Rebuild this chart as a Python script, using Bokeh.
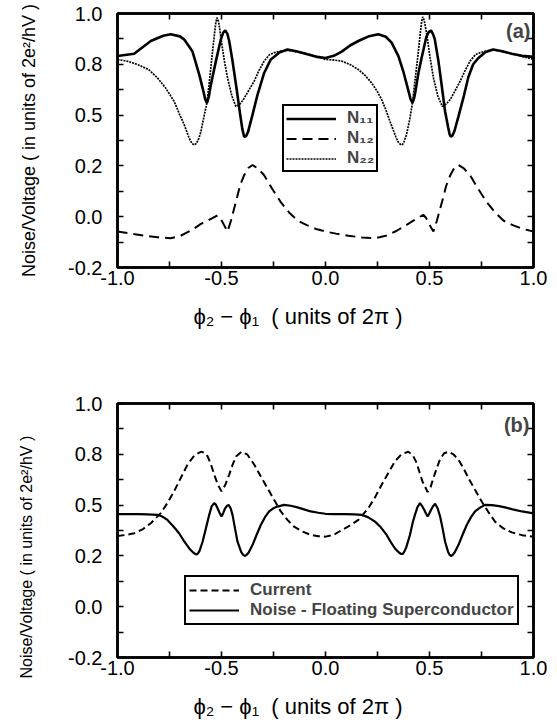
from bokeh.plotting import figure
from bokeh.models import Range1d, FixedTicker, LinearAxis, Legend, LegendItem, Label
from bokeh.layouts import column
from bokeh.embed import file_html
from bokeh.resources import INLINE

# ---------------- axes / ticks ----------------
x_ticks = [-1.0, -0.5, 0.0, 0.5, 1.0]
x_tick_labels = ["-1.0", "-0.5", "0.0", "0.5", "1.0"]
x_minor = [-0.75, -0.25, 0.25, 0.75]
y_ticks = [1.0, 0.76, 0.52, 0.28, 0.04, -0.2]
y_tick_labels = ["1.0", "0.8", "0.5", "0.2", "0.0", "-0.2"]
y_minor = [0.88, 0.64, 0.40, 0.16, -0.08]

NB = "\u00a0"
x_title = "\u03d5\u2082 \u2212 \u03d5\u2081" + NB * 2 + "( units of 2\u03c0 )" + NB * 9
y_title = "Noise/Voltage ( in units of 2e\u00b2/hV )"

# ---------------- panel (a) ----------------
n11_x = [-1.000, -0.920, -0.840, -0.780, -0.744, -0.700, -0.680, -0.640, -0.607, -0.587,
         -0.578, -0.570, -0.561, -0.551, -0.527, -0.503, -0.492, -0.482, -0.472, -0.463,
         -0.447, -0.428, -0.410, -0.400, -0.391, -0.382, -0.372, -0.351, -0.327, -0.295,
         -0.263, -0.223, -0.183, -0.140, -0.087, -0.040,
         0.000, 0.040, 0.078, 0.120, 0.158, 0.210, 0.254, 0.290, 0.318, 0.350, 0.374,
         0.400, 0.409, 0.418, 0.426, 0.432, 0.447, 0.462, 0.485, 0.496, 0.507, 0.516,
         0.525, 0.543, 0.560, 0.575, 0.590, 0.597, 0.603, 0.611, 0.620, 0.639, 0.665,
         0.687, 0.710, 0.735, 0.770, 0.807, 0.850, 0.895, 0.945, 1.000]
n11_y = [0.799, 0.810, 0.870, 0.895, 0.902, 0.892, 0.878, 0.822, 0.711, 0.632,
         0.594, 0.578, 0.607, 0.664, 0.775, 0.878, 0.910, 0.920, 0.905, 0.870,
         0.775, 0.648, 0.521, 0.455, 0.418, 0.420, 0.442, 0.521, 0.616, 0.719,
         0.783, 0.815, 0.830, 0.822, 0.807, 0.795,
         0.790, 0.800, 0.820, 0.850, 0.870, 0.893, 0.902, 0.890, 0.862, 0.800, 0.727,
         0.630, 0.595, 0.578, 0.600, 0.630, 0.720, 0.790, 0.890, 0.912, 0.920, 0.905,
         0.880, 0.775, 0.650, 0.537, 0.460, 0.428, 0.418, 0.425, 0.445, 0.513, 0.610,
         0.700, 0.760, 0.790, 0.818, 0.830, 0.822, 0.810, 0.800, 0.795]

n12_x = [-1.000, -0.936, -0.872, -0.808, -0.744, -0.700, -0.663, -0.630, -0.599, -0.560,
         -0.519, -0.507, -0.495, -0.483, -0.471, -0.455, -0.431, -0.410, -0.391, -0.371,
         -0.351, -0.325, -0.295, -0.255, -0.215, -0.175, -0.135, -0.090, -0.045, 0.000,
         0.050, 0.110, 0.175, 0.238, 0.290, 0.335, 0.375, 0.420, 0.470, 0.483, 0.495,
         0.507, 0.519, 0.535, 0.560, 0.580, 0.600, 0.620, 0.639, 0.665, 0.695, 0.735,
         0.775, 0.815, 0.855, 0.900, 0.950, 1.000]
n12_y = [-0.030, -0.040, -0.049, -0.057, -0.062, -0.052, -0.033, -0.015, 0.006, 0.025,
         0.046, 0.035, 0.014, -0.008, -0.030, 0.020, 0.109, 0.190, 0.236, 0.270,
         0.284, 0.268, 0.236, 0.170, 0.109, 0.060, 0.022, 0.000, -0.018, -0.030,
         -0.040, -0.050, -0.058, -0.062, -0.050, -0.030, -0.008, 0.020, 0.049, 0.035, 0.012,
         -0.010, -0.030, 0.020, 0.109, 0.185, 0.236, 0.272, 0.284, 0.268, 0.236, 0.170,
         0.109, 0.060, 0.022, 0.000, -0.018, -0.030]

n22_x = [-1.000, -0.950, -0.904, -0.850, -0.808, -0.770, -0.728, -0.700, -0.679, -0.655,
         -0.642, -0.631, -0.620, -0.609, -0.599, -0.585, -0.570, -0.556, -0.543, -0.532,
         -0.527, -0.522, -0.517, -0.512, -0.503, -0.487, -0.471, -0.450, -0.431, -0.411,
         -0.391, -0.367, -0.343, -0.320, -0.295, -0.270, -0.247, -0.215, -0.183, -0.135,
         -0.087, -0.040, 0.000,
         0.040, 0.078, 0.120, 0.158, 0.190, 0.222, 0.250, 0.270, 0.290, 0.310, 0.337,
         0.350, 0.363, 0.370, 0.378, 0.390, 0.405, 0.418, 0.431, 0.443, 0.456, 0.462,
         0.467, 0.472, 0.477, 0.487, 0.503, 0.519, 0.540, 0.562, 0.580, 0.599, 0.623,
         0.647, 0.670, 0.695, 0.720, 0.743, 0.770, 0.799, 0.850, 0.895, 0.945, 1.000]
n22_y = [0.783, 0.774, 0.759, 0.735, 0.696, 0.650, 0.585, 0.520, 0.474, 0.410,
         0.386, 0.379, 0.387, 0.410, 0.442, 0.510, 0.577, 0.700, 0.822, 0.920,
         0.958, 0.980, 0.972, 0.950, 0.886, 0.780, 0.696, 0.610, 0.561, 0.572,
         0.600, 0.640, 0.680, 0.730, 0.775, 0.805, 0.815, 0.822, 0.826, 0.818,
         0.810, 0.795, 0.783,
         0.780, 0.775, 0.758, 0.735, 0.708, 0.672, 0.630, 0.593, 0.545, 0.490, 0.420,
         0.392, 0.379, 0.381, 0.395, 0.430, 0.500, 0.577, 0.690, 0.790, 0.910, 0.960,
         0.984, 0.975, 0.955, 0.900, 0.790, 0.696, 0.610, 0.561, 0.572, 0.593, 0.635,
         0.680, 0.728, 0.775, 0.805, 0.815, 0.822, 0.830, 0.820, 0.810, 0.797, 0.783]

# ---------------- panel (b) ----------------
cur_x = [-1.000, -0.960, -0.920, -0.880, -0.840, -0.792, -0.760, -0.728, -0.695, -0.663,
         -0.630, -0.599, -0.583, -0.567, -0.550, -0.535, -0.517, -0.500, -0.482, -0.463,
         -0.447, -0.430, -0.404, -0.375, -0.343, -0.311, -0.279, -0.247, -0.215, -0.183,
         -0.151, -0.111, -0.071, -0.035, 0.000,
         0.040, 0.078, 0.120, 0.158, 0.206, 0.240, 0.270, 0.302, 0.334, 0.365, 0.398,
         0.420, 0.438, 0.452, 0.466, 0.491, 0.505, 0.519, 0.535, 0.550, 0.570, 0.591,
         0.615, 0.639, 0.663, 0.687, 0.719, 0.751, 0.783, 0.815, 0.855, 0.895, 0.945, 1.000]
cur_y = [0.374, 0.379, 0.387, 0.405, 0.434, 0.482, 0.530, 0.585, 0.650, 0.712,
         0.755, 0.772, 0.768, 0.751, 0.710, 0.664, 0.615, 0.585, 0.615, 0.664,
         0.710, 0.750, 0.772, 0.758, 0.712, 0.655, 0.600, 0.545, 0.490, 0.450,
         0.418, 0.395, 0.379, 0.373, 0.371,
         0.380, 0.402, 0.425, 0.450, 0.505, 0.560, 0.616, 0.672, 0.727, 0.760, 0.772,
         0.755, 0.720, 0.675, 0.632, 0.582, 0.605, 0.648, 0.695, 0.735, 0.765, 0.772,
         0.760, 0.735, 0.695, 0.648, 0.592, 0.537, 0.487, 0.442, 0.410, 0.391, 0.378, 0.371]

noise_x = [-1.000, -0.950, -0.904, -0.856, -0.808, -0.785, -0.760, -0.732, -0.704, -0.680,
           -0.655, -0.635, -0.627, -0.619, -0.612, -0.605, -0.591, -0.575, -0.559, -0.547,
           -0.535, -0.527, -0.519, -0.510, -0.500, -0.492, -0.484, -0.475, -0.466, -0.456,
           -0.447, -0.435, -0.423, -0.405, -0.396, -0.388, -0.380, -0.370, -0.351, -0.331,
           -0.311, -0.291, -0.271, -0.251, -0.231, -0.199, -0.167, -0.135, -0.103, -0.071,
           -0.035, 0.000,
           0.040, 0.090, 0.140, 0.174, 0.206, 0.238, 0.266, 0.294, 0.314, 0.334, 0.353,
           0.362, 0.371, 0.379, 0.388, 0.406, 0.420, 0.430, 0.442, 0.454, 0.465, 0.475,
           0.483, 0.491, 0.499, 0.507, 0.517, 0.527, 0.539, 0.551, 0.563, 0.575, 0.589,
           0.596, 0.603, 0.611, 0.620, 0.639, 0.659, 0.679, 0.699, 0.719, 0.743, 0.767,
           0.800, 0.835, 0.863, 0.900, 0.945, 1.000]
noise_y = [0.477, 0.477, 0.477, 0.476, 0.474, 0.466, 0.450, 0.420, 0.387, 0.350,
           0.315, 0.295, 0.289, 0.287, 0.293, 0.305, 0.347, 0.410, 0.474, 0.515,
           0.529, 0.522, 0.505, 0.485, 0.466, 0.482, 0.502, 0.515, 0.521, 0.505,
           0.474, 0.410, 0.347, 0.298, 0.285, 0.280, 0.284, 0.295, 0.331, 0.380,
           0.426, 0.463, 0.490, 0.505, 0.513, 0.521, 0.517, 0.509, 0.500, 0.490,
           0.484, 0.479,
           0.477, 0.477, 0.476, 0.474, 0.462, 0.442, 0.415, 0.379, 0.345, 0.315, 0.296,
           0.290, 0.289, 0.300, 0.320, 0.379, 0.440, 0.474, 0.510, 0.529, 0.515, 0.497,
           0.480, 0.466, 0.480, 0.497, 0.515, 0.526, 0.505, 0.466, 0.410, 0.347, 0.300,
           0.286, 0.280, 0.284, 0.295, 0.331, 0.380, 0.426, 0.462, 0.490, 0.508, 0.521,
           0.520, 0.515, 0.509, 0.500, 0.490, 0.481]

FONT = "Liberation Sans"


def make_panel(height, border_top, border_bottom, ylabel, ylabel_size, ylabel_standoff):
    p = figure(width=557, height=height, output_backend="svg", toolbar_location=None,
               x_axis_type=None, y_axis_type=None,
               x_range=Range1d(-1.0, 1.0), y_range=Range1d(-0.2, 1.0),
               min_border_left=117, min_border_right=24,
               min_border_top=border_top, min_border_bottom=border_bottom,
               outline_line_color="black", outline_line_width=2.5, outline_line_alpha=1.0,
               background_fill_color="white", border_fill_color="white")

    xt = FixedTicker(ticks=x_ticks, minor_ticks=x_minor)
    yt = FixedTicker(ticks=y_ticks, minor_ticks=y_minor)

    def common(ax):
        ax.axis_line_width = 2.5
        ax.axis_line_color = "black"
        ax.major_tick_in = 6
        ax.major_tick_out = 0
        ax.minor_tick_in = 6
        ax.minor_tick_out = 0
        ax.major_tick_line_width = 1.6
        ax.minor_tick_line_width = 1.6
        ax.major_tick_line_color = "black"
        ax.minor_tick_line_color = "black"
        ax.major_label_text_font = FONT
        ax.major_label_text_font_size = "20px"
        ax.major_label_text_color = "black"
        ax.axis_label_text_font = FONT
        ax.axis_label_text_font_style = "normal"
        ax.axis_label_text_color = "black"

    xb = LinearAxis(ticker=xt, major_label_overrides=dict(zip(x_ticks, x_tick_labels)))
    common(xb)
    xb.major_label_standoff = 3
    xb.axis_label = x_title
    xb.axis_label_text_font_size = "22px"
    xb.axis_label_standoff = 16
    p.add_layout(xb, "below")

    yl = LinearAxis(ticker=yt, major_label_overrides=dict(zip(y_ticks, y_tick_labels)))
    common(yl)
    yl.major_label_standoff = 15
    yl.axis_label = ylabel
    yl.axis_label_text_font_size = ylabel_size
    yl.axis_label_standoff = ylabel_standoff
    p.add_layout(yl, "left")

    for ax, side in ((LinearAxis(ticker=xt), "above"), (LinearAxis(ticker=yt), "right")):
        common(ax)
        ax.major_label_text_font_size = "0px"
        ax.major_label_text_color = None
        ax.major_label_standoff = 0
        p.add_layout(ax, side)
    return p


# ---------------- panel (a) figure ----------------
p1 = make_panel(353, 13, 86, y_title, "18px", 26)
r11 = p1.line(n11_x, n11_y, line_color="black", line_width=2.6)
r12 = p1.line(n12_x, n12_y, line_color="black", line_width=2.0, line_dash="10 6")
r22 = p1.line(n22_x, n22_y, line_color="black", line_width=1.7, line_dash="2 1")
leg1 = Legend(items=[LegendItem(label="N\u2081\u2081", renderers=[r11]),
                     LegendItem(label="N\u2081\u2082", renderers=[r12]),
                     LegendItem(label="N\u2082\u2082", renderers=[r22])],
              location=(165, 95), orientation="vertical",
              border_line_color="black", border_line_width=2.5, border_line_alpha=1.0,
              background_fill_color="white", background_fill_alpha=1.0,
              padding=2, margin=0, spacing=0, glyph_width=50, glyph_height=17,
              label_height=17, label_standoff=11, label_text_font=FONT,
              label_text_font_style="bold", label_text_font_size="17px")
p1.add_layout(leg1)
p1.add_layout(Label(x=1.0, y=1.0, text="(a)", text_align="right", text_baseline="top",
                    x_offset=-3, y_offset=-6, text_font=FONT, text_font_style="bold",
                    text_font_size="20px"))

# ---------------- panel (b) figure ----------------
p2 = make_panel(368, 50, 63, y_title + NB * 12, "16px", 30)
rc = p2.line(cur_x, cur_y, line_color="black", line_width=2.0, line_dash="7 4")
rn = p2.line(noise_x, noise_y, line_color="black", line_width=2.2)
leg2 = Legend(items=[LegendItem(label="Current", renderers=[rc]),
                     LegendItem(label="Noise - Floating Superconductor", renderers=[rn])],
              location=(67, 32), orientation="vertical",
              border_line_color="black", border_line_width=2.5, border_line_alpha=1.0,
              background_fill_color="white", background_fill_alpha=1.0,
              padding=3, margin=0, spacing=0, glyph_width=50, glyph_height=20,
              label_height=20, label_standoff=11, label_text_font=FONT,
              label_text_font_style="bold", label_text_font_size="17px")
p2.add_layout(leg2)
p2.add_layout(Label(x=1.0, y=1.0, text="(b)", text_align="right", text_baseline="top",
                    x_offset=-4, y_offset=-10, text_font=FONT, text_font_style="bold",
                    text_font_size="20px"))

layout = column(p1, p2, spacing=0)
open("out.html", "w").write(file_html(layout, INLINE))
